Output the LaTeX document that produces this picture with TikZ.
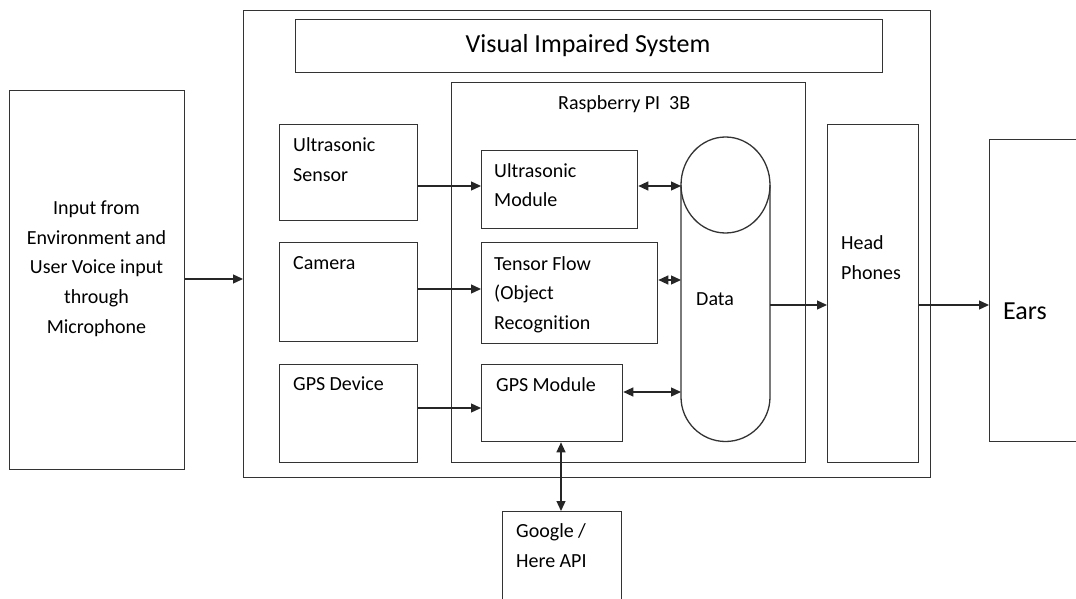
\documentclass[tikz,border=0pt]{standalone}
\usepackage{fontspec}
\setmainfont{Carlito}[Ligatures=NoCommon]
\usetikzlibrary{arrows.meta}

\begin{document}
\begin{tikzpicture}[x=1pt,y=-1pt,
  box/.style={draw=black!80,line width=1.3pt,rectangle,inner sep=0pt,anchor=north west},
  txt/.style={anchor=base west,inner sep=0pt,text width=160pt,
              font=\fontsize{20}{29.7}\selectfont,
              execute at begin node={\spaceskip=4.3pt\xspaceskip=4.3pt\relax}},
  big/.style={inner sep=0pt,font=\fontsize{26}{30}\selectfont},
  arr/.style={draw=black!85,line width=1.3pt,-{Triangle[length=10pt,width=9pt]}},
  dbl/.style={draw=black!85,line width=1.3pt,{Triangle[length=10pt,width=9pt]}-{Triangle[length=10pt,width=9pt]}}]
\useasboundingbox (0,0) rectangle (1076,599);

% outer frames
\node[box,minimum width=687pt,minimum height=467pt] (sys) at (243,10) {};
\node[box,minimum width=587pt,minimum height=53pt] (title) at (295,19) {};
\node[big,anchor=base] (titletxt) at (588,52.5) {Visual Impaired System};
\node[box,minimum width=354pt,minimum height=380pt] (rpi) at (451,82) {};
\node[txt,anchor=base west] (rpitxt) at (558,109.5) {Raspberry PI\hspace{9pt}3B};

% environment input
\node[box,minimum width=175pt,minimum height=379pt] (env) at (9,90) {};
\node[txt,anchor=base,text width=170pt] (envtxt) at (96.5,214.5)
  {\centering Input from\\Environment and\\User Voice input\\through\\Microphone\par};

% sensors
\node[box,minimum width=138pt,minimum height=96pt] (us) at (279,124) {};
\node[txt] (ustxt) at (293,151.5) {Ultrasonic\\Sensor};
\node[box,minimum width=138pt,minimum height=99pt] (cam) at (279,242) {};
\node[txt] (camtxt) at (293,269.5) {Camera};
\node[box,minimum width=138pt,minimum height=98pt] (gpsd) at (279,364) {};
\node[txt] (gpsdtxt) at (293,390.5) {GPS Device};

% modules on the Raspberry Pi
\node[box,minimum width=156pt,minimum height=78pt] (um) at (481,150) {};
\node[txt] (umtxt) at (494,177) {Ultrasonic\\Module};
\node[box,minimum width=176pt,minimum height=101pt] (tf) at (481,242) {};
\node[txt] (tftxt) at (494,270) {Tensor Flow\\(Object\\Recognition};
\node[box,minimum width=141pt,minimum height=77pt] (gm) at (481,364) {};
\node[txt] (gmtxt) at (496,391) {GPS Module};

% data store (cylinder)
\node[inner sep=0pt,minimum width=89pt,minimum height=304pt,anchor=north west] (data) at (681,137) {};
\draw[draw=black!80,line width=1.3pt]
  (681,185) -- (681,397) arc[start angle=180,end angle=360,x radius=44.5pt,y radius=44.5pt]
  -- (770,185);
\draw[draw=black!80,line width=1.3pt] (725.5,185) ellipse[x radius=44.5pt,y radius=48pt];
\node[txt] (datatxt) at (696,305.5) {Data};

% outputs
\node[box,minimum width=91pt,minimum height=338pt] (hp) at (827,124) {};
\node[txt] (hptxt) at (841,249.5) {Head\\Phones};
\node[box,minimum width=110pt,minimum height=302pt] (ears) at (989,139) {};
\node[big,anchor=base west] (earstxt) at (1003,319.5) {Ears};
\node[box,minimum width=119pt,minimum height=100pt] (api) at (502,511) {};
\node[txt] (apitxt) at (516,537.5) {Google /\\Here API};

% connectors
\draw[arr] (env.east |- 0,279) -- (sys.west |- 0,279);
\draw[arr] (us.east |- 0,186) -- (um.west |- 0,186);
\draw[arr] (cam.east |- 0,289) -- (tf.west |- 0,289);
\draw[arr] (gpsd.east |- 0,408) -- (gm.west |- 0,408);
\draw[dbl] (um.east |- 0,186) -- (data.west |- 0,186);
\draw[dbl] (tf.east |- 0,280) -- (data.west |- 0,280);
\draw[dbl] (gm.east |- 0,392) -- (data.west |- 0,392);
\draw[arr] (data.east |- 0,305) -- (hp.west |- 0,305);
\draw[arr] (hp.east |- 0,305) -- (ears.west |- 0,305);
\draw[dbl] (gm.south -| 561,0) -- (api.north -| 561,0);
\end{tikzpicture}
\end{document}
